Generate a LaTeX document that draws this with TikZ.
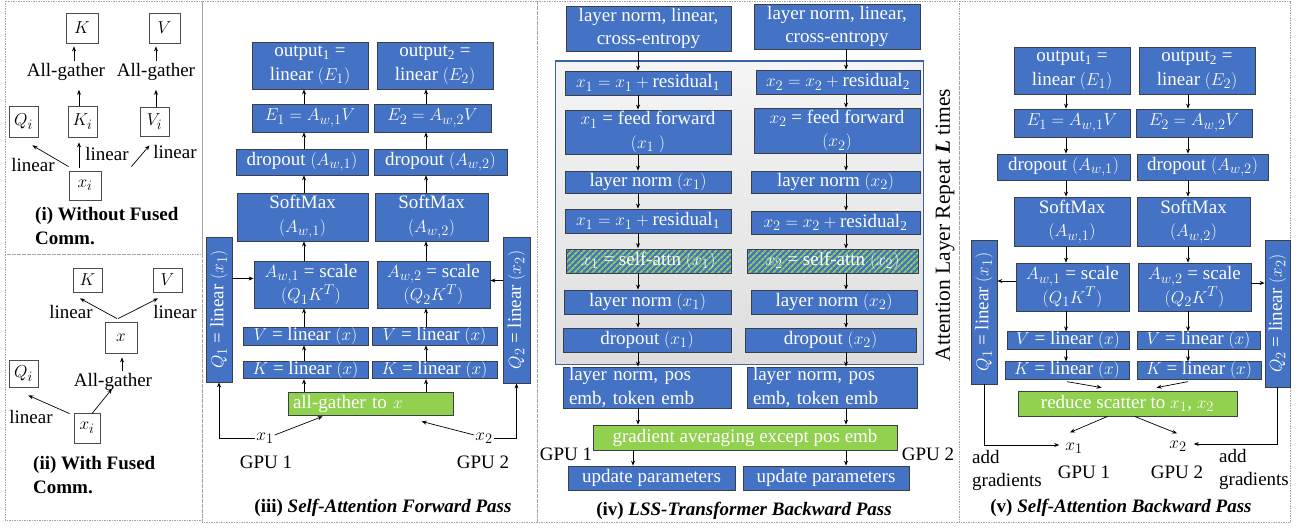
\documentclass[tikz,border=0pt]{standalone}
\usepackage{fontspec}
\setmainfont{Liberation Serif}
\usetikzlibrary{arrows.meta,patterns.meta,calc}
\definecolor{bblue}{HTML}{4472C4}
\definecolor{bgreen}{HTML}{92D050}
\definecolor{bord}{HTML}{3A3F4A}
\newcommand{\fs}{\fontsize{19}{23.5}\selectfont}
\newcommand{\mkbox}[7]{\node[#1, minimum width={#4-#2}, minimum height={#5-#3}] (#6) at ({(#2+#4)/2},{(#3+#5)/2}) {#7};}
\tikzset{
  bx/.style={draw=bord, line width=0.8pt, fill=bblue, text=white, inner sep=0pt, align=center, font=\fs},
  gbx/.style={bx, fill=bgreen},
  hbx/.style={draw=bord, line width=0.8pt, preaction={fill=bblue}, pattern={Lines[angle=45,distance=4pt,line width=1.8pt]}, pattern color=bgreen, text=white, inner sep=0pt, align=center, font=\fs},
  sq/.style={draw=gray!60!black, line width=0.8pt, fill=white, inner sep=0pt, font=\fs},
  lbl/.style={inner sep=1pt, font=\fs},
  ttl/.style={inner sep=0pt, font=\fs\bfseries, align=left},
  arr/.style={-{Stealth[length=5pt,width=4pt]}, line width=0.7pt},
  panel/.style={draw=gray!70, line width=0.6pt, dash pattern=on 1.5pt off 1pt},
  attnbg/.style={draw=bblue!85!black, line width=1pt, top color=gray!8, bottom color=gray!26, inner sep=0pt},
}
\begin{document}
\begin{tikzpicture}[x=1pt,y=-1pt]
\useasboundingbox (0,0) rectangle (1305,527);
% panel borders
\draw[panel] (5,1) rectangle (202,254);
\draw[panel] (5,254) rectangle (202,520);
\draw[panel] (202,1) rectangle (537,522);
\draw[panel] (537,1) rectangle (959,522);
\draw[panel] (959,1) rectangle (1290,522);

% ---------- panel (i)
\mkbox{sq}{66}{13}{98}{43}{Ka}{$K$}
\mkbox{sq}{149}{13}{180}{43}{Va}{$V$}
\node[lbl] (aga) at (66,72) {All-gather};
\node[lbl] (agb) at (156,72) {All-gather};
\mkbox{sq}{9}{106}{38}{137}{Qa}{$Q_i$}
\mkbox{sq}{68}{106}{97}{137}{Kia}{$K_i$}
\mkbox{sq}{140}{107}{169}{136}{Via}{$V_i$}
\mkbox{sq}{69}{171}{101}{200}{xa}{$x_i$}
\node[lbl] (la1) at (33,165) {linear};
\node[lbl] (la2) at (107,154) {linear};
\node[lbl] (la3) at (175,152) {linear};
\coordinate (ca) at (79,0);
\coordinate (cb) at (74,0);
\coordinate (cc) at (156,0);
\draw[arr] ($(xa.north west)+(0,-4)$) -- ($(Qa.south east)+(-6,8)$);
\draw[arr] ($(xa.north -| ca)+(0,-3)$) -- ($(Kia.south -| ca)+(0,5)$);
\draw[arr] ($(xa.north east)+(30,-4)$) -- ($(Via.south)+(-5,9)$);
\draw[arr] (Kia.north -| ca) -- ($(aga.south -| ca)+(0,8)$);
\draw[arr] ($(aga.north -| cb)+(0,-1)$) -- ($(Ka.south -| cb)+(0,3)$);
\draw[arr] (Via.north -| cc) -- ($(agb.south -| cc)+(0,8)$);
\draw[arr] ($(agb.north -| cc)+(0,-1)$) -- ($(Va.south -| cc)+(0,3)$);
\node[ttl, anchor=north west] (ti) at (35,207.5) {(i) Without Fused\\Comm.};

% ---------- panel (ii)
\mkbox{sq}{73}{268}{102}{292}{Kb}{$K$}
\mkbox{sq}{153}{268}{182}{292}{Vb}{$V$}
\node[lbl] (lb1) at (71,312) {linear};
\node[lbl] (lb2) at (175,312) {linear};
\mkbox{sq}{105}{322}{137}{353}{xb}{$x$}
\draw[arr] ($(xb.north)+(-4,-3)$) -- ($(Kb.south)+(-7.5,6)$);
\draw[arr] ($(xb.north)+(-3,-3)$) -- ($(Vb.south)+(-9.5,6)$);
\node[lbl] (agc) at (113,382) {All-gather};
\coordinate (cd) at (122,0);
\draw[arr] ($(agc.north -| cd)+(0,-1)$) -- ($(xb.south -| cd)+(0,4)$);
\mkbox{sq}{9}{360}{38}{387}{Qb}{$Q_i$}
\mkbox{sq}{74}{413}{100}{443}{xib}{$x_i$}
\node[lbl] (lb3) at (31,417) {linear};
\draw[arr] ($(xib.north west)+(-4,1)$) -- ($(Qb.south east)+(-10,8)$);
\draw[arr] ($(xib.north)+(5,1)$) -- ($(agc.south)+(-1,-3)$);
\node[ttl, anchor=north west] (tii) at (33,456.5) {(ii) With Fused\\Comm.};

% ---------- panel (iii)
\mkbox{bx}{252}{42}{368}{89}{o31}{output\textsubscript{1} =\\linear $(E_1)$}
\mkbox{bx}{377}{42}{493}{89}{o32}{output\textsubscript{2} =\\linear $(E_2)$}
\mkbox{bx}{252}{104}{368}{132}{e31}{$E_1 = A_{w,1}V$}
\mkbox{bx}{374}{104}{491}{132}{e32}{$E_2 = A_{w,2}V$}
\mkbox{bx}{236}{149}{368}{175}{d31}{dropout $(A_{w,1})$}
\mkbox{bx}{374}{149}{507}{175}{d32}{dropout $(A_{w,2})$}
\mkbox{bx}{237}{193}{368}{241}{s31}{SoftMax\\$(A_{w,1})$}
\mkbox{bx}{375}{193}{488}{241}{s32}{SoftMax\\$(A_{w,2})$}
\mkbox{bx}{254}{261}{368}{308}{a31}{$A_{w,1}$ = scale\\$(Q_1K^T)$}
\mkbox{bx}{377}{261}{490}{308}{a32}{$A_{w,2}$ = scale\\$(Q_2K^T)$}
\mkbox{bx}{243}{327}{368}{345}{v31}{$V$ = linear $(x)$}
\mkbox{bx}{372}{327}{497}{345}{v32}{$V$ = linear $(x)$}
\mkbox{bx}{243}{362}{368}{378}{k31}{$K$ = linear $(x)$}
\mkbox{bx}{372}{362}{497}{378}{k32}{$K$ = linear $(x)$}
\node[bx, rotate=90, minimum width=145, minimum height=26] (q31) at (219,309.5) {$Q_1$ = linear $(x_1)$};
\node[bx, rotate=90, minimum width=146, minimum height=27] (q32) at (516.5,310) {$Q_2$ = linear $(x_2)$};
\node[gbx, text width=155pt, align=left, inner xsep=5pt, minimum height=23] (ag3) at (370.5,403.5) {all-gather to $x$};
\node[lbl] (x31) at (265,438) {$x_1$};
\node[lbl] (g31) at (266,462) {GPU 1};
\node[lbl] (x32) at (484,438) {$x_2$};
\node[lbl] (g32) at (483,462) {GPU 2};
\coordinate (c31) at (304,0);
\coordinate (c32) at (426,0);
\foreach \a/\b in {ag3/k31,k31/v31,v31/a31,a31/s31,s31/d31,d31/e31,e31/o31}
  {\draw[arr] (\a.north -| c31) -- (\b.south -| c31);}
\foreach \a/\b in {ag3/k32,k32/v32,v32/a32,a32/s32,s32/d32,d32/e32,e32/o32}
  {\draw[arr] (\a.north -| c32) -- (\b.south -| c32);}
\draw[arr] ($(x31.east)+(0,-3)$) -- ($(ag3.south west)+(35,1)$);
\draw[arr] ($(x32.west)+(0,-3)$) -- ($(ag3.south west)+(134,6)$);
\draw[arr] (x31.west) -| (q31.west);
\draw[arr] (x32.east) -| (q32.west);
\coordinate (qa1) at ($(a31.west)+(0,-6)$);
\coordinate (qa2) at ($(a32.east)+(0,-4)$);
\draw[arr] (q31.south |- qa1) -- (qa1);
\draw[arr] (q32.north |- qa2) -- (qa2);
\node[ttl] (tiii) at (383,508) {(iii) \textit{Self-Attention Forward Pass}};

% ---------- panel (iv)
\mkbox{attnbg}{555}{61}{923}{364}{att}{}
\mkbox{bx}{566}{6}{731}{51}{t41}{layer norm, linear,\\cross-entropy}
\mkbox{bx}{754}{4}{920}{49}{t42}{layer norm, linear,\\cross-entropy}
\mkbox{bx}{565}{71}{731}{95}{r41}{$x_1 = x_1 + {}$residual\textsubscript{1}}
\mkbox{bx}{756}{70}{920}{94}{r42}{$x_2 = x_2 + {}$residual\textsubscript{2}}
\mkbox{bx}{565}{110}{731}{154}{f41}{$x_1$ = feed forward\\$(x_1\;)$}
\mkbox{bx}{754}{108}{920}{153}{f42}{$x_2$ = feed forward\\$(x_2)$}
\mkbox{bx}{565}{171}{731}{193}{l41}{layer norm $(x_1)$}
\mkbox{bx}{751}{171}{920}{193}{l42}{layer norm $(x_2)$}
\mkbox{bx}{565}{209}{731}{233}{r43}{$x_1 = x_1 + {}$residual\textsubscript{1}}
\mkbox{bx}{751}{211}{920}{234}{r44}{$x_2 = x_2 + {}$residual\textsubscript{2}}
\mkbox{hbx}{566}{249}{731}{273}{sa1}{$x_1$ = self-attn $(x_1)$}
\mkbox{hbx}{747}{249}{918}{273}{sa2}{$x_2$ = self-attn $(x_2)$}
\mkbox{bx}{564}{290}{731}{314}{l43}{layer norm $(x_1)$}
\mkbox{bx}{751}{290}{917}{314}{l44}{layer norm $(x_2)$}
\mkbox{bx}{563}{328}{731}{352}{d41}{dropout $(x_1)$}
\mkbox{bx}{745}{328}{916}{352}{d42}{dropout $(x_2)$}
\node[bx, text width=156pt, align=left, inner xsep=6pt, minimum height=41] (m41) at (647,387.5) {layer norm, pos\\emb, token emb};
\node[bx, text width=158pt, align=left, inner xsep=6pt, minimum height=41] (m42) at (832,387.5) {layer norm, pos\\emb, token emb};
\mkbox{gbx}{593}{425}{897}{450}{g4}{gradient averaging except pos emb}
\mkbox{bx}{568}{466}{735}{490}{u41}{update parameters}
\mkbox{bx}{743}{466}{909}{490}{u42}{update parameters}
\node[lbl] (g41) at (566,454) {GPU 1};
\node[lbl] (g42) at (928,454) {GPU 2};
\node[inner sep=0pt, rotate=90, font=\fontsize{21.5}{24}\selectfont] (rep) at (945,225) {Attention Layer Repeat \textbf{\textit{L}} times};
\coordinate (c41) at (638,0);
\coordinate (c42) at (846,0);
\coordinate (c43) at (633,0);
\foreach \a/\b in {t41/r41,r41/f41,f41/l41,l41/r43,r43/sa1,sa1/l43,l43/d41,d41/m41,m41/g4}
  {\draw[arr] (\a.south -| c41) -- (\b.north -| c41);}
\foreach \a/\b in {t42/r42,r42/f42,f42/l42,l42/r44,r44/sa2,sa2/l44,l44/d42,d42/m42,m42/g4}
  {\draw[arr] (\a.south -| c42) -- (\b.north -| c42);}
\draw[arr] (g4.south -| c43) -- (u41.north -| c43);
\draw[arr] (g4.south -| c42) -- (u42.north -| c42);
\node[ttl] (tiv) at (744,511) {(iv) \textit{LSS-Transformer Backward Pass}};

% ---------- panel (v)
\mkbox{bx}{1014}{47}{1130}{94}{o51}{output\textsubscript{1} =\\linear $(E_1)$}
\mkbox{bx}{1139}{47}{1255}{94}{o52}{output\textsubscript{2} =\\linear $(E_2)$}
\mkbox{bx}{1014}{109}{1130}{137}{e51}{$E_1 = A_{w,1}V$}
\mkbox{bx}{1136}{109}{1252}{137}{e52}{$E_2 = A_{w,2}V$}
\mkbox{bx}{997}{154}{1130}{180}{d51}{dropout $(A_{w,1})$}
\mkbox{bx}{1137}{154}{1268}{180}{d52}{dropout $(A_{w,2})$}
\mkbox{bx}{1014}{197}{1130}{246}{s51}{SoftMax\\$(A_{w,1})$}
\mkbox{bx}{1137}{197}{1250}{246}{s52}{SoftMax\\$(A_{w,2})$}
\mkbox{bx}{1016}{263}{1129}{311}{a51}{$A_{w,1}$ = scale\\$(Q_1K^T)$}
\mkbox{bx}{1138}{263}{1251}{311}{a52}{$A_{w,2}$ = scale\\$(Q_2K^T)$}
\mkbox{bx}{1007}{332}{1129}{349}{v51}{$V$ = linear $(x)$}
\mkbox{bx}{1137}{332}{1260}{349}{v52}{$V$ = linear $(x)$}
\mkbox{bx}{1005}{362}{1129}{379}{k51}{$K$ = linear $(x)$}
\mkbox{bx}{1137}{362}{1261}{379}{k52}{$K$ = linear $(x)$}
\node[bx, rotate=90, minimum width=144, minimum height=26] (q51) at (984,312) {$Q_1$ = linear $(x_1)$};
\node[bx, rotate=90, minimum width=147, minimum height=25] (q52) at (1277.5,313.5) {$Q_2$ = linear $(x_2)$};
\mkbox{gbx}{1018}{391}{1237}{416}{rs}{reduce scatter to $x_1$, $x_2$}
\node[lbl] (x51) at (1074,448) {$x_1$};
\node[lbl] (g51) at (1084,472) {GPU 1};
\node[lbl] (x52) at (1178,446) {$x_2$};
\node[lbl] (g52) at (1177,472) {GPU 2};
\node[lbl, inner sep=0pt, align=left, anchor=north west] (ad1) at (972,450) {add\\gradients};
\node[lbl, inner sep=0pt, align=left, anchor=north west] (ad2) at (1219,449) {add\\gradients};
\coordinate (c51) at (1066,0);
\coordinate (c52) at (1188,0);
\foreach \a/\b in {o51/e51,e51/d51,d51/s51,s51/a51,a51/v51,v51/k51}
  {\draw[arr] (\a.south -| c51) -- (\b.north -| c51);}
\foreach \a/\b in {o52/e52,e52/d52,d52/s52,s52/a52,a52/v52,v52/k52}
  {\draw[arr] (\a.south -| c52) -- (\b.north -| c52);}
\coordinate (aq1) at ($(a51.west)+(0,-6)$);
\coordinate (aq2) at ($(a52.east)+(0,-4)$);
\draw[arr] (aq1) -- (q51.south |- aq1);
\draw[arr] (aq2) -- (q52.north |- aq2);
\draw[arr] ($(k51.south)+(0,2)$) -- ($(rs.north west)+(84,-3)$);
\draw[arr] ($(k52.south)+(-11,2)$) -- ($(rs.north west)+(139,-3)$);
\draw[arr] ($(rs.south west)+(90,0)$) -- ($(x51.north)+(-4,-9)$);
\draw[arr] ($(rs.south west)+(117,0)$) -- ($(x52.north)+(-1,-6)$);
\draw[arr] (q51.west) |- ($(x51.west)+(-5,-3)$);
\draw[arr] (q52.west) |- ($(x52.east)+(6,-2)$);
\node[ttl] (tv) at (1121,508) {(v) \textit{Self-Attention Backward Pass}};
\end{tikzpicture}
\end{document}
